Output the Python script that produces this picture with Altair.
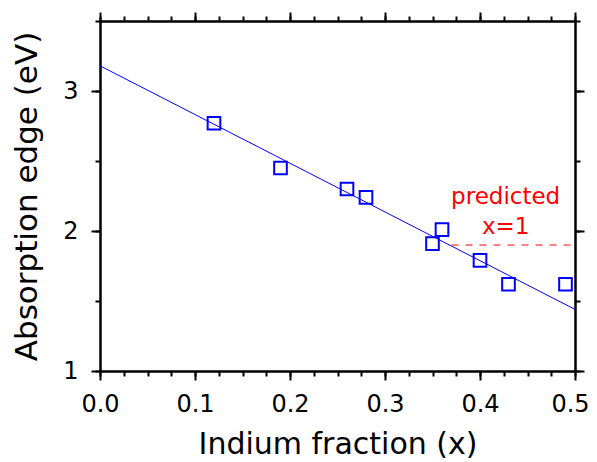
import altair as alt
import pandas as pd

# measured data points
indium_x = [0.12, 0.19, 0.26, 0.28, 0.35, 0.36, 0.40, 0.43, 0.49]
edge_ev = [2.77, 2.45, 2.30, 2.24, 1.91, 2.01, 1.79, 1.62, 1.62]

# linear fit endpoints
fit_x = [0.0, 0.5]
fit_y = [3.18, 1.44]

# predicted x=1 marker (dashed)
pred_x = [0.37, 0.5]
pred_y = [1.90, 1.90]

# annotation
ann_text = ["predicted", "x=1"]
ann_x = [0.427, 0.427]
ann_y = [2.19, 1.98]

x_major = [0.0, 0.1, 0.2, 0.3, 0.4, 0.5]
x_minor = [round(i * 0.025, 3) for i in range(21)]
y_major = [1, 2, 3]
y_minor = [1.0, 1.5, 2.0, 2.5, 3.0, 3.5]

FONT = "DejaVu Sans"

pts = pd.DataFrame({"x": indium_x, "y": edge_ev})
fit = pd.DataFrame({"x": fit_x, "y": fit_y})
pred = pd.DataFrame({"x": pred_x, "y": pred_y})
ann = pd.DataFrame({"x": ann_x, "y": ann_y, "t": ann_text})

xs = alt.Scale(domain=[0, 0.5], nice=False, zero=False)
ys = alt.Scale(domain=[1, 3.5], nice=False, zero=False)

common = dict(domainColor="black", domainWidth=2, tickColor="black", tickWidth=2,
              grid=False, labelFont=FONT, titleFont=FONT, labelColor="black",
              titleColor="black", labelFlush=False)

def mk_axis(orient, values, size, labels, title=None, **kw):
    d = dict(common)
    d.update(kw)
    if title is None:
        return alt.Axis(orient=orient, values=values, tickSize=size, labels=labels,
                        title=None, **d)
    return alt.Axis(orient=orient, values=values, tickSize=size, labels=labels,
                    title=title, **d)

# major bottom axis: labels 0.0 .. 0.4 (0.5 drawn by the minor axis, nudged to fit)
x_bottom = mk_axis("bottom", x_major, 9, True, "Indium fraction (x)",
                   labelExpr="datum.value > 0.45 ? '' : format(datum.value, '.1f')",
                   labelFontSize=24, labelPadding=12, titleFontSize=30,
                   titleFontWeight="normal", titleBaseline="alphabetic", titleY=82)
x_bottom_minor = mk_axis("bottom", x_minor, 5, True,
                         labelExpr="datum.value > 0.49 ? '0.5' : ''",
                         labelFontSize=24, labelPadding=16, labelOffset=-5)
x_top = mk_axis("top", x_major, 9, False)
x_top_minor = mk_axis("top", x_minor, 5, False)

y_left = mk_axis("left", y_major, 9, True, "Absorption edge (eV)", format="d",
                 labelFontSize=24, labelPadding=13, titleFontSize=31,
                 titleFontWeight="normal", titleBaseline="alphabetic", titleX=-64,
                 titleAngle=270)
y_left_minor = mk_axis("left", y_minor, 5, False)
y_right = mk_axis("right", y_major, 9, False)
y_right_minor = mk_axis("right", y_minor, 5, False)

l_pts = alt.Chart(pts).mark_point(shape="square", filled=False, color="#0000ff",
                                  strokeWidth=2, size=160, opacity=1).encode(
    x=alt.X("x:Q", scale=xs, axis=x_bottom),
    y=alt.Y("y:Q", scale=ys, axis=y_left),
)

l_fit = alt.Chart(fit).mark_line(color="#0000ff", strokeWidth=1).encode(
    x=alt.X("x:Q", scale=xs, axis=x_bottom_minor),
    y=alt.Y("y:Q", scale=ys, axis=y_left_minor),
)

l_pred = alt.Chart(pred).mark_line(color="#ff0000", strokeWidth=1, strokeDash=[7, 7]).encode(
    x=alt.X("x:Q", scale=xs, axis=x_top),
    y=alt.Y("y:Q", scale=ys, axis=y_right),
)

l_ann = alt.Chart(ann).mark_text(color="#ff0000", font=FONT, fontSize=23,
                                 align="center", baseline="alphabetic").encode(
    x=alt.X("x:Q", scale=xs, axis=x_top_minor),
    y=alt.Y("y:Q", scale=ys, axis=y_right_minor),
    text="t:N",
)

chart = alt.layer(l_fit, l_pred, l_pts, l_ann).resolve_axis(
    x="independent", y="independent"
).properties(
    width=475, height=350,
    autosize=alt.AutoSizeParams(type="none"),
    padding={"left": 92, "top": 13, "right": 14, "bottom": 91},
).configure_view(stroke=None).configure(background="white")

chart.save("out.html", embed_options={"renderer": "svg", "actions": False})
